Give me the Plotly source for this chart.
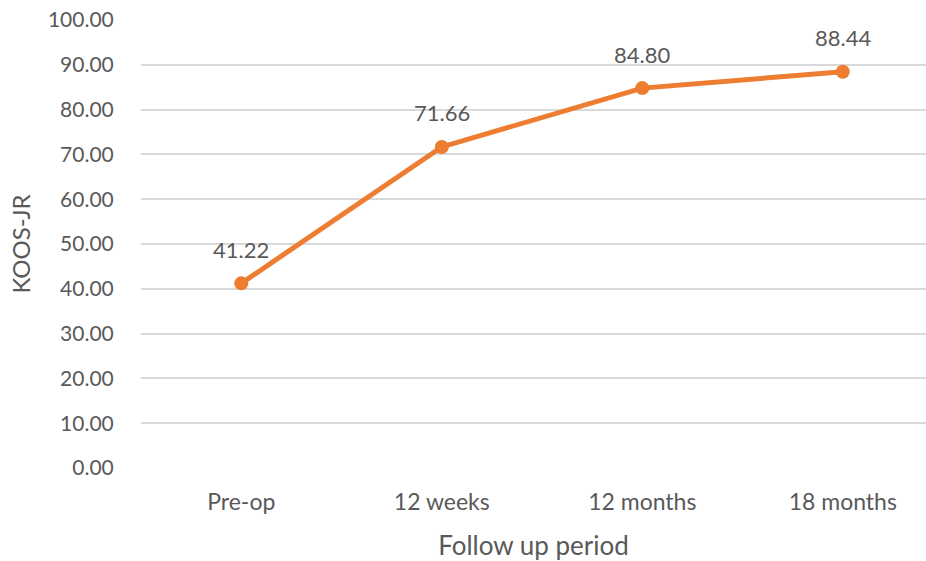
import plotly.graph_objects as go

periods = ["Pre-op", "12 weeks", "12 months", "18 months"]
koos_jr = [41.22, 71.66, 84.80, 88.44]
y_ticks = [0, 10, 20, 30, 40, 50, 60, 70, 80, 90, 100]

font_family = "Lato, Carlito, 'Open Sans', sans-serif"
text_color = "#595959"
line_color = "#ED7D31"

x_pos = list(range(len(periods)))

fig = go.Figure()
fig.add_trace(go.Scatter(
    x=x_pos,
    y=koos_jr,
    mode="lines+markers",
    line=dict(color=line_color, width=5),
    marker=dict(color=line_color, size=14),
    cliponaxis=False,
    hoverinfo="skip",
))

# value labels above each point
for xi, v in zip(x_pos, koos_jr):
    fig.add_annotation(
        x=xi, y=v, text=f"{v:.2f}", showarrow=False,
        yshift=34, font=dict(family=font_family, size=22, color=text_color),
    )

fig.update_layout(
    width=926,
    height=561,
    margin=dict(l=141, r=0, t=20, b=93),
    paper_bgcolor="white",
    plot_bgcolor="white",
    showlegend=False,
    font=dict(family=font_family, size=21, color=text_color),
    xaxis=dict(
        range=[-0.5, 3.415],
        tickmode="array",
        tickvals=x_pos,
        ticktext=periods,
        showgrid=False,
        zeroline=False,
        showline=False,
        ticks="outside",
        ticklen=13,
        tickcolor="rgba(0,0,0,0)",
        tickfont=dict(size=23, color=text_color),
        title=dict(text="Follow up period", font=dict(size=26, color=text_color), standoff=23),
    ),
    yaxis=dict(
        range=[0, 100],
        tickmode="array",
        tickvals=y_ticks,
        ticktext=[f"{v:.2f}" for v in y_ticks],
        showgrid=True,
        gridcolor="#D9D9D9",
        gridwidth=2,
        zeroline=False,
        showline=False,
        ticks="outside",
        ticklen=22,
        tickcolor="rgba(0,0,0,0)",
        tickfont=dict(size=21, color=text_color),
        title=dict(text="KOOS-JR", font=dict(size=24, color=text_color), standoff=10),
    ),
)

fig.write_html("out.html")
